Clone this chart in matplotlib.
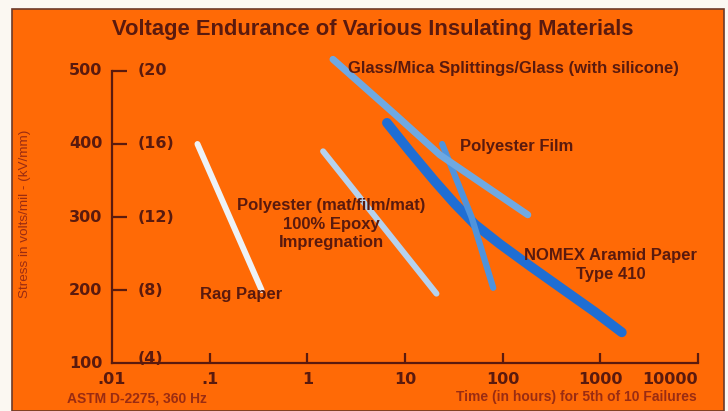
import numpy as np
import matplotlib
matplotlib.use("Agg")
from matplotlib import pyplot as plt
from matplotlib.patches import Rectangle
import matplotlib.transforms as mtransforms

# --- data (hours, volts/mil) ---
rag_x = [0.075, 0.34]
rag_y = [400, 200]

pmat_x = [1.45, 21]
pmat_y = [390, 195]

glass_x = [1.83, 8, 22.8, 181]
glass_y = [516, 440, 385, 303]

pfilm_x = [24, 48, 80]
pfilm_y = [400, 300, 203]

nomex_x = [6.53, 11.2, 20.2, 32.4, 51.9, 93.6, 190, 434, 879, 1660]
nomex_y = [429, 390, 349, 318, 290, 263, 233, 199, 170, 142]

y_ticks = [100, 200, 300, 400, 500]
y_labels = ['100', '200', '300', '400', '500']
kv_labels = ['(4)', '(8)', '(12)', '(16)', '(20']
x_ticks = [0.01, 0.1, 1, 10, 100, 1000, 10000]
x_labels = ['.01', '.1', '1', '10', '100', '1000', '10000']

orange = '#ff6a06'
dark = '#5a1a0e'
reddish = '#9a2c12'

plt.rcParams['font.family'] = ['Liberation Sans', 'DejaVu Sans']
num_font = ['DejaVu Sans']

W, H = 728, 411
fig = plt.figure(figsize=(W / 100, H / 100), dpi=100)
fig.patch.set_facecolor('#fbf8f2')
# orange panel with a thin dark frame
fig.patches.append(Rectangle((12 / W, 0), (724 - 12) / W, (H - 9) / H,
                             transform=fig.transFigure, facecolor=orange,
                             edgecolor='#6b3a2a', lw=1.2, zorder=-5))

ax = fig.add_axes([112 / W, 1 - 363 / H, (698 - 112) / W, (363 - 71) / H])
ax.set_zorder(2)
ax.patch.set_alpha(0)
ax.set_xscale('log')
ax.set_xlim(0.01, 10000)
ax.set_ylim(100, 500)

for s in ['top', 'right']:
    ax.spines[s].set_visible(False)
for s in ['left', 'bottom']:
    ax.spines[s].set_color(dark)
    ax.spines[s].set_linewidth(1.6)

ax.xaxis.set_minor_locator(matplotlib.ticker.NullLocator())
ax.set_xticks(x_ticks[1:])
ax.set_xticklabels([])
ax.tick_params(axis='x', direction='in', length=7, width=1.6, color=dark)
ax.set_yticks(y_ticks[1:])
ax.set_yticklabels([])
ax.tick_params(axis='y', direction='in', length=11, width=1.6, color=dark)

# tick labels
bx = mtransforms.blended_transform_factory(ax.transData, ax.transAxes)
for xv, lab in zip(x_ticks, x_labels):
    ha = 'right' if lab == '10000' else 'center'
    ax.text(xv, -0.032, lab, transform=bx, ha=ha, va='top', family=num_font,
            fontsize=11.5, fontweight='bold', color=dark)

by = mtransforms.blended_transform_factory(ax.transAxes, ax.transData)
for yv, lab, kv in zip(y_ticks, y_labels, kv_labels):
    ax.text(-0.016, yv, lab, transform=by, ha='right', va='center', family=num_font,
            fontsize=11.5, fontweight='bold', color=dark)
    ax.text(0.043, yv + (6 if yv == 100 else 0), kv, transform=by, family=num_font,
            ha='left', va='center', fontsize=11.5, fontweight='bold', color=dark)

# curves
kw = dict(solid_capstyle='round', solid_joinstyle='round', clip_on=False)
ax.plot(rag_x, rag_y, color='#eef2f6', lw=4.3, **kw)
ax.plot(pmat_x, pmat_y, color='#b6d2ee', lw=4.3, **kw)
ax.plot(nomex_x, nomex_y, color='#1f6ed4', lw=7, **kw)
ax.plot(pfilm_x, pfilm_y, color='#4f93dc', lw=4.5, **kw)
ax.plot(glass_x, glass_y, color='#6fa9e2', lw=5, **kw)

# curve labels
lab_kw = dict(fontsize=12, fontweight='bold', color=dark, transform=fig.transFigure,
              zorder=3)
fig.text(348 / W, 1 - 68 / H, 'Glass/Mica Splittings/Glass (with silicone)',
         ha='left', va='center', **lab_kw)
fig.text(460 / W, 1 - 147 / H, 'Polyester Film', ha='left', va='center', **lab_kw)
fig.text(331 / W, 1 - 224 / H, 'Polyester (mat/film/mat)\n100% Epoxy\nImpregnation',
         ha='center', va='center', linespacing=1.28, **lab_kw)
fig.text(611 / W, 1 - 265 / H, 'NOMEX Aramid Paper\nType 410',
         ha='center', va='center', linespacing=1.38, **lab_kw)
fig.text(200 / W, 1 - 294 / H, 'Rag Paper', ha='left', va='center', **lab_kw)

# title and notes
fig.text(373 / W, 1 - 30 / H, 'Voltage Endurance of Various Insulating Materials',
         ha='center', va='center', fontsize=15.8, fontweight='bold', color=dark)
fig.text(25 / W, 1 - 214 / H, 'Stress in volts/mil - (kV/mm)', rotation=90,
         ha='center', va='center', fontsize=9.7, color=reddish)
fig.text(67 / W, 1 - 398 / H, 'ASTM D-2275, 360 Hz', ha='left', va='center',
         fontsize=10, fontweight='bold', color=reddish)
fig.text(697 / W, 1 - 397 / H, 'Time (in hours) for 5th of 10 Failures', ha='right',
         va='center', fontsize=10, fontweight='bold', color=reddish)

fig.savefig('out.png', dpi=100, facecolor=fig.get_facecolor())
